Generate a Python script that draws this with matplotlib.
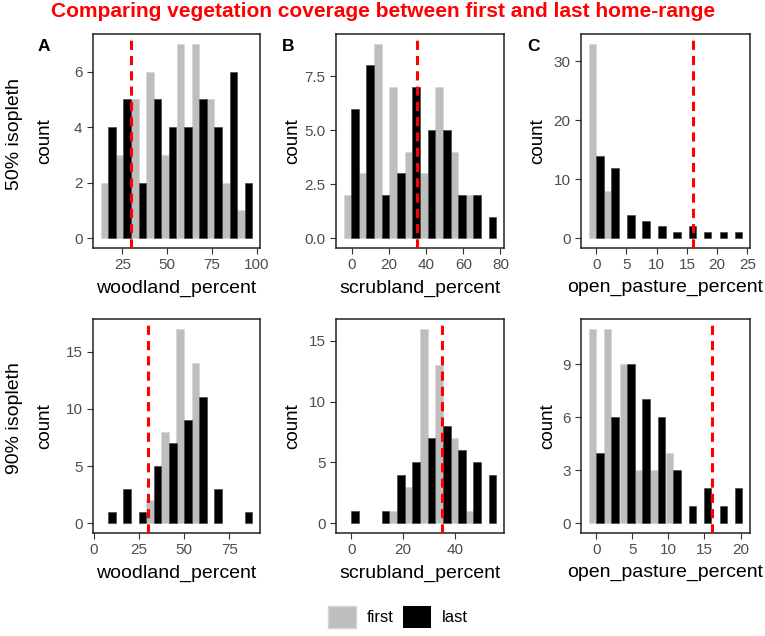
import matplotlib.pyplot as plt
import numpy as np
from matplotlib.patches import Patch

plt.rcParams['font.family'] = ['Liberation Sans', 'DejaVu Sans']

# ===== DATA (bin centres and counts) =====
woodland50_bins = [17.1, 25.6, 34.1, 42.5, 51.0, 59.5, 68.0, 76.4, 84.9, 93.4]
woodland50_first = [2, 3, 5, 6, 3, 7, 7, 5, 2, 1]
woodland50_last = [4, 5, 2, 5, 4, 4, 5, 4, 6, 2]

scrub50_bins = [-0.4, 7.8, 16.1, 24.3, 32.5, 40.8, 49.0, 57.2, 65.4, 73.7]
scrub50_first = [2, 3, 9, 7, 4, 3, 7, 4, 2, 0]
scrub50_last = [6, 8, 2, 3, 7, 5, 5, 2, 2, 1]

pasture50_bins = [0.0, 2.5, 5.1, 7.6, 10.2, 12.7, 15.3, 17.8, 20.4, 22.9]
pasture50_first = [33, 8, 0, 0, 0, 0, 0, 0, 0, 0]
pasture50_last = [14, 12, 4, 3, 2, 1, 2, 1, 1, 1]

woodland90_bins = [8.0, 16.4, 24.8, 33.2, 41.6, 49.9, 58.3, 66.7, 75.1, 83.5]
woodland90_first = [0, 0, 0, 2, 8, 17, 14, 0, 0, 0]
woodland90_last = [1, 3, 1, 5, 7, 9, 11, 3, 0, 1]

scrub90_bins = [0.0, 5.9, 11.8, 17.7, 23.6, 29.6, 35.5, 41.4, 47.3, 53.2]
scrub90_first = [0, 0, 0, 1, 3, 16, 13, 7, 1, 0]
scrub90_last = [1, 0, 1, 4, 5, 7, 8, 6, 5, 4]

pasture90_bins = [0.0, 2.1, 4.3, 6.4, 8.5, 10.7, 12.8, 14.9, 17.1, 19.2]
pasture90_first = [11, 11, 9, 3, 3, 4, 0, 0, 0, 0]
pasture90_last = [4, 6, 9, 7, 6, 3, 1, 2, 1, 2]

# dashed reference lines
woodland_cut = 30
scrub_cut = 35
pasture_cut = 16

GREY = "#BEBEBE"
TICK_COL = "#4D4D4D"


def draw_panel(ax, bins, first, last, cut, xticks, yticks, ylabels, xlabel):
    bins = np.array(bins, dtype=float)
    first = np.array(first)
    last = np.array(last)
    bw = bins[1] - bins[0]

    m = first > 0
    ax.bar(bins[m] - bw / 4, first[m], width=bw / 2, color=GREY,
           edgecolor="#d4d4d4", linewidth=0.5, zorder=2)
    m = last > 0
    ax.bar(bins[m] + bw / 4, last[m], width=bw / 2, color="black",
           edgecolor="#3a3a3a", linewidth=0.4, zorder=2)
    ax.axvline(cut, color="red", linewidth=2.2, linestyle=(0, (3, 2)), zorder=3)

    lo, hi = bins[0] - bw / 2, bins[-1] + bw / 2
    pad = 0.05 * (hi - lo)
    ax.set_xlim(lo - pad, hi + pad)
    ymax = max(first.max(), last.max())
    ax.set_ylim(-0.05 * ymax, 1.05 * ymax)

    ax.set_xticks(xticks)
    ax.set_yticks(yticks)
    ax.set_yticklabels(ylabels)
    ax.set_xlabel(xlabel, fontsize=14, labelpad=5)
    ax.set_ylabel("count", fontsize=13.5, va="center")
    ax.tick_params(colors="#333333", labelcolor=TICK_COL, labelsize=11,
                   length=4.5, width=0.8, pad=3)
    for s in ax.spines.values():
        s.set_color("#222222")
        s.set_linewidth(1.1)


fig = plt.figure(figsize=(7.65, 6.36), dpi=100)
W, H = 765, 636


def add_ax(x0, y0, x1, y1):
    return fig.add_axes([x0 / W, 1 - y1 / H, (x1 - x0) / W, (y1 - y0) / H])


cols = [(93, 260), (336, 504), (581, 750)]
rows = [(34, 248), (319, 533)]

panels = [
    (woodland50_bins, woodland50_first, woodland50_last, woodland_cut,
     [25, 50, 75, 100], [0, 2, 4, 6], ["0", "2", "4", "6"], "woodland_percent"),
    (scrub50_bins, scrub50_first, scrub50_last, scrub_cut,
     [0, 20, 40, 60, 80], [0, 2.5, 5, 7.5], ["0.0", "2.5", "5.0", "7.5"], "scrubland_percent"),
    (pasture50_bins, pasture50_first, pasture50_last, pasture_cut,
     [0, 5, 10, 15, 20, 25], [0, 10, 20, 30], ["0", "10", "20", "30"], "open_pasture_percent"),
    (woodland90_bins, woodland90_first, woodland90_last, woodland_cut,
     [0, 25, 50, 75], [0, 5, 10, 15], ["0", "5", "10", "15"], "woodland_percent"),
    (scrub90_bins, scrub90_first, scrub90_last, scrub_cut,
     [0, 20, 40], [0, 5, 10, 15], ["0", "5", "10", "15"], "scrubland_percent"),
    (pasture90_bins, pasture90_first, pasture90_last, pasture_cut,
     [0, 5, 10, 15, 20], [0, 3, 6, 9], ["0", "3", "6", "9"], "open_pasture_percent"),
]

# x centre (px) of the "count" titles
count_x = [45, 293, 538, 45, 293, 548]

for i, p in enumerate(panels):
    r, c = divmod(i, 3)
    ax = add_ax(cols[c][0], rows[r][0], cols[c][1], rows[r][1])
    draw_panel(ax, *p)
    ax.yaxis.set_label_coords((count_x[i] - cols[c][0]) / (cols[c][1] - cols[c][0]), 0.5)

# ===== TEXT =====
fig.text(383 / W, 1 - 17.3 / H, "Comparing vegetation coverage between first and last home-range",
         color="red", fontsize=15, fontweight="bold", ha="center", va="baseline")
for lab, x in zip(["A", "B", "C"], [43.5, 288, 533]):
    fig.text(x / W, 1 - 46.5 / H, lab, fontsize=12.5, fontweight="bold", ha="center", va="center")
fig.text(15 / W, 1 - 134 / H, "50% isopleth", fontsize=14, rotation=90, ha="center", va="center")
fig.text(15 / W, 1 - 418 / H, "90% isopleth", fontsize=14, rotation=90, ha="center", va="center")

handles = [Patch(facecolor=GREY, edgecolor="#d4d4d4"), Patch(facecolor="black")]
fig.legend(handles, ["first", "last"], ncol=2, frameon=False, fontsize=12,
           loc="center", bbox_to_anchor=(398 / W, 1 - 617 / H),
           handlelength=1.63, handleheight=1.68, handletextpad=0.66, columnspacing=0.6)

fig.savefig("out.png", dpi=100)
